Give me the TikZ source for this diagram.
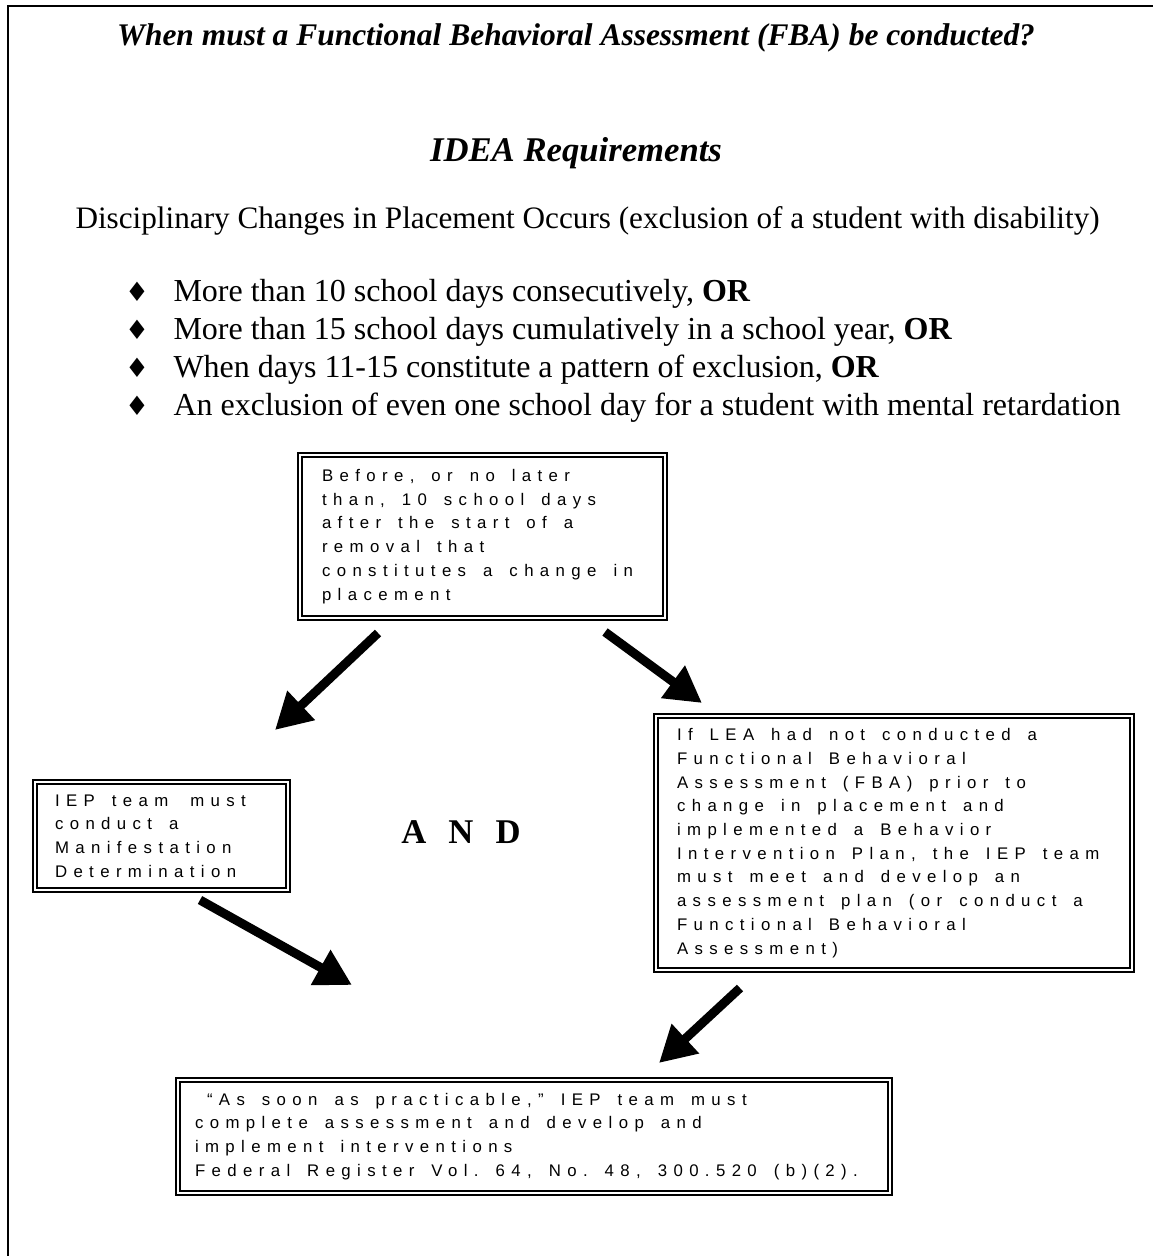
\documentclass[tikz,border=0pt]{standalone}
\usepackage{fontspec}
\setmainfont{Liberation Serif}
\newfontfamily\boxfont[LetterSpace=38]{Liberation Sans}
\newfontfamily\symfont{DejaVu Sans}
\usetikzlibrary{arrows.meta}
\newlength\px
\setlength\px{0.375pt}
\newcommand\ws{\kern17\px\relax}
\newcommand\boxtext{\boxfont\fontsize{6.3}{8.9}\selectfont}
\newcommand\bodytext{\fontsize{12}{14}\selectfont}
\newcommand\headtext{\fontsize{11.8}{14}\selectfont\bfseries\itshape}
\tikzset{
  dbox/.style={draw, line width=2\px, double, double distance=1.8\px, rectangle,
    align=left, inner ysep=0pt, font=\boxtext},
  bigarrow/.style={line width=3.375pt, -{Triangle[length=13.5pt, width=14.25pt]}},
  bodyline/.style={anchor=base west, inner sep=0pt, font=\bodytext},
  bullet/.style={anchor=base, inner sep=0pt, font=\symfont\fontsize{10}{12}\selectfont}
}
\begin{document}
\begin{tikzpicture}[x=\px, y=-\px]
\useasboundingbox (0,0) rectangle (1152,1256);
% outer frame (cut at right and bottom)
\draw[line width=2\px] (8,1300) -- (8,6) -- (1200,6);

\node[anchor=base, inner sep=0pt, font=\headtext] (title) at (576,45)
  {When must a Functional Behavioral Assessment (FBA) be conducted?};
\node[anchor=base, inner sep=0pt, font=\fontsize{13}{15}\selectfont\bfseries\itshape] (idea) at (576,161) {IDEA Requirements};
\node[bodyline, font=\fontsize{11.7}{14}\selectfont] (disc) at (75,228)
  {Disciplinary Changes in Placement Occurs (exclusion of a student with disability)};

\node[bullet] (d1) at (137,301) {♦};
\node[bullet] (d2) at (137,339) {♦};
\node[bullet] (d3) at (137,377) {♦};
\node[bullet] (d4) at (137,415) {♦};
\node[bodyline] (b1) at (173,301) {More than 10 school days consecutively, \textbf{OR}};
\node[bodyline] (b2) at (173,339) {More than 15 school days cumulatively in a school year, \textbf{OR}};
\node[bodyline] (b3) at (173,377) {When days 11-15 constitute a pattern of exclusion, \textbf{OR}};
\node[bodyline] (b4) at (173,415) {An exclusion of even one school day for a student with mental retardation};

\node[dbox, minimum width=365\px, minimum height=163\px, inner xsep=22\px, text width=321\px]
  (before) at (482.5,536.5)
  {Before,\ws or\ws no\ws later\\than,\ws 10\ws school\ws days\\after\ws the\ws start\ws of\ws a\\removal\ws that\\constitutes\ws a\ws change\ws in\\placement};

\node[dbox, minimum width=253\px, minimum height=108\px, inner xsep=20\px, text width=213\px]
  (iep) at (161.5,836)
  {IEP\ws team\kern22\px must\\conduct\ws a\\Manifestation\\Determination};

\node[dbox, minimum width=476\px, minimum height=254\px, inner xsep=21\px, text width=434\px]
  (lea) at (894,843)
  {If\ws LEA\ws had\ws not\ws conducted\ws a\\Functional\ws Behavioral\\Assessment\ws (FBA)\ws prior\ws to\\change\ws in\ws placement\ws and\\implemented\ws a\ws Behavior\\Intervention\ws Plan,\ws the\ws IEP\ws team\\must\ws meet\ws and\ws develop\ws an\\assessment\ws plan\ws (or\ws conduct\ws a\\Functional\ws Behavioral\\Assessment)};

\node[dbox, minimum width=712\px, minimum height=113\px, inner xsep=17\px, text width=678\px]
  (soon) at (534,1136.5)
  {\kern12\px “As\ws soon\ws as\ws practicable,”\ws IEP\ws team\ws must\\complete\ws assessment\ws and\ws develop\ws and\\implement\ws interventions\\Federal\ws Register\ws Vol.\ws 64,\ws No.\ws 48,\ws 300.520\ws (b)(2).};

\node[inner sep=0pt, font=\fontsize{13}{15}\selectfont\bfseries] (and) at (461,832)
  {A\hspace{5pt} N\hspace{5pt} D};

\coordinate (a1s) at (378,633);
\coordinate (a1e) at (275,730);
\coordinate (a2s) at (605,632);
\coordinate (a2e) at (702,703);
\coordinate (a3s) at (200,900);
\coordinate (a3e) at (352,985);
\coordinate (a4s) at (740,988);
\coordinate (a4e) at (659,1063);
\draw[bigarrow] (a1s) -- (a1e);
\draw[bigarrow] (a2s) -- (a2e);
\draw[bigarrow] (a3s) -- (a3e);
\draw[bigarrow] (a4s) -- (a4e);
\end{tikzpicture}
\end{document}
